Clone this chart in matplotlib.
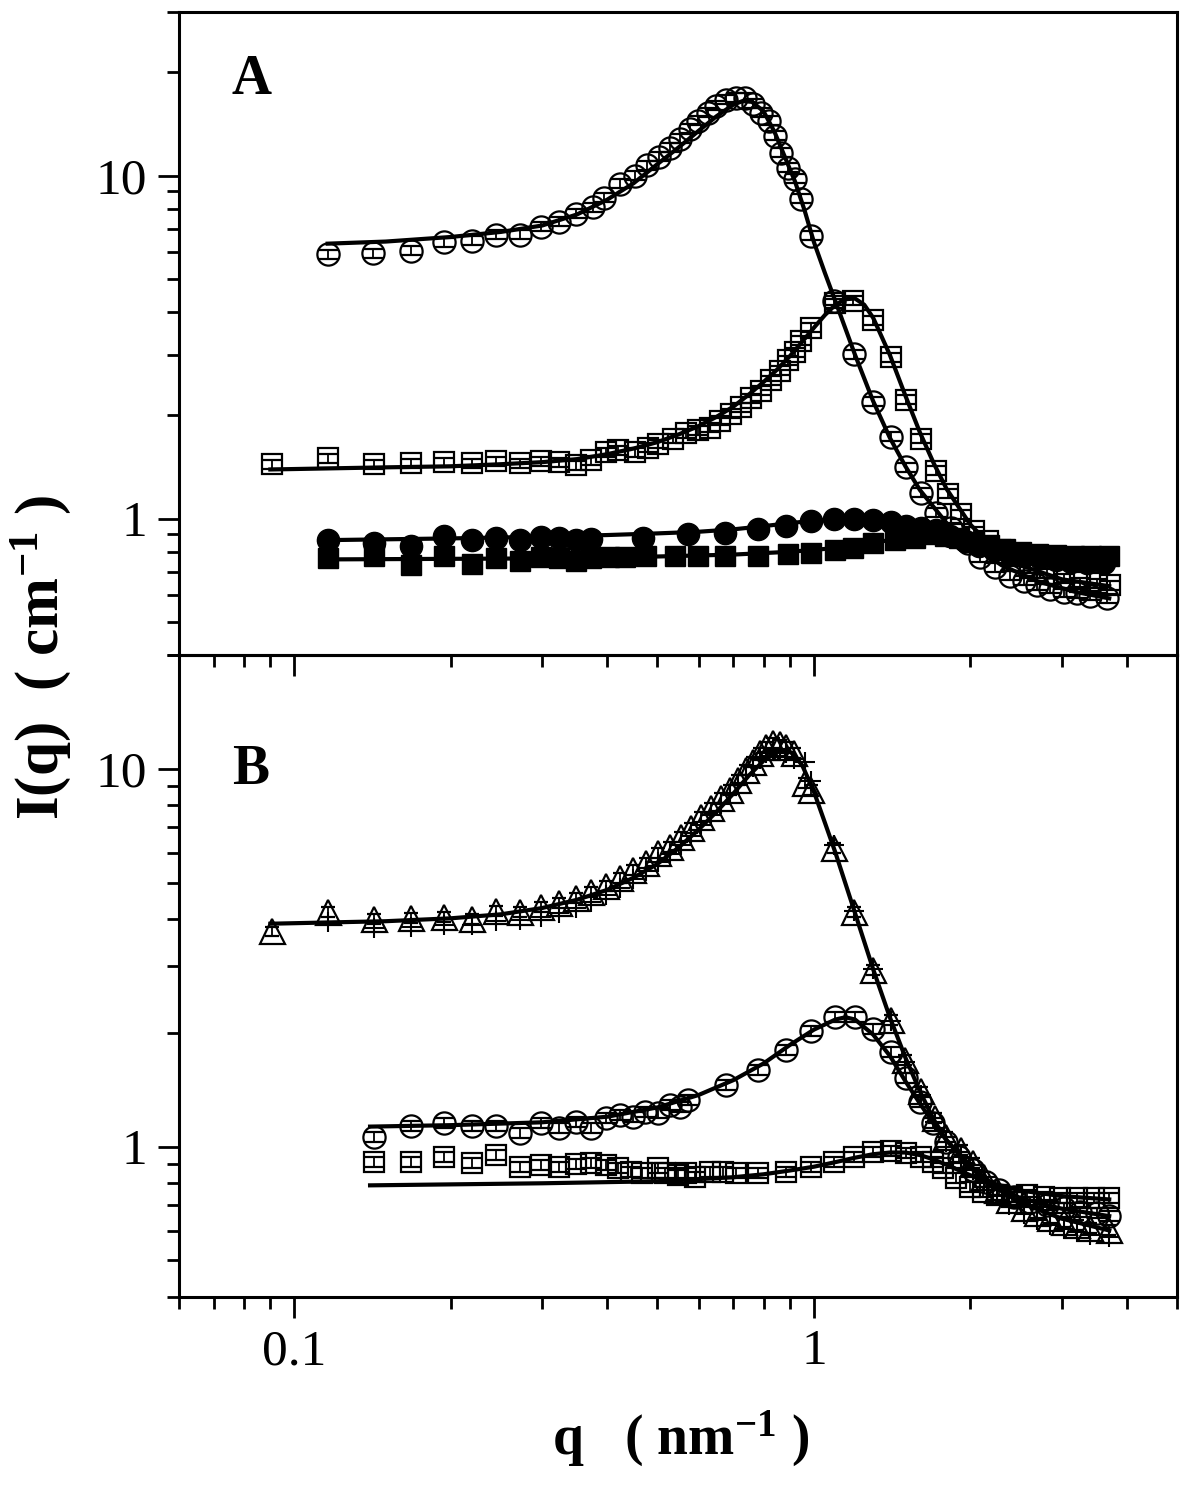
import matplotlib
matplotlib.use('Agg')
import matplotlib.pyplot as plt
from matplotlib.ticker import LogLocator, NullFormatter, FuncFormatter

plt.rcParams['font.family'] = 'Liberation Serif'
plt.rcParams['mathtext.fontset'] = 'custom'
plt.rcParams['mathtext.rm'] = 'Liberation Serif:bold'
plt.rcParams['mathtext.bf'] = 'Liberation Serif:bold'
plt.rcParams['mathtext.default'] = 'rm'

# ---------------- panel A data ----------------
A_circ_q = [0.116, 0.142, 0.168, 0.194, 0.220, 0.245, 0.272, 0.298, 0.323, 0.349,
            0.376, 0.394, 0.424, 0.453, 0.478, 0.504, 0.529, 0.553, 0.578, 0.599,
            0.626, 0.648, 0.678, 0.708, 0.737, 0.764, 0.791, 0.820, 0.842, 0.864,
            0.891, 0.919, 0.944, 0.987, 1.093, 1.193, 1.298, 1.405, 1.502, 1.605,
            1.715, 1.832, 1.975, 2.083, 2.226, 2.388, 2.541, 2.692, 2.851, 3.032,
            3.212, 3.401, 3.667]
A_circ_I = [5.89, 5.93, 6.04, 6.38, 6.46, 6.73, 6.73, 7.10, 7.34, 7.75,
            8.07, 8.63, 9.48, 10.0, 10.7, 11.36, 12.07, 12.82, 13.71, 14.47,
            15.26, 16.0, 16.66, 16.87, 16.87, 16.22, 15.26, 14.47, 13.08, 11.67,
            10.55, 9.80, 8.57, 6.68, 4.32, 3.01, 2.19, 1.73, 1.41, 1.19,
            1.04, 0.94, 0.846, 0.77, 0.72, 0.682, 0.659, 0.638, 0.625, 0.609,
            0.605, 0.596, 0.585]

A_sq_q = [0.0907, 0.116, 0.1425, 0.168, 0.194, 0.220, 0.245, 0.272, 0.298, 0.323,
          0.348, 0.373, 0.399, 0.42, 0.453, 0.480, 0.502, 0.536, 0.568, 0.599,
          0.632, 0.660, 0.693, 0.724, 0.757, 0.791, 0.827, 0.860, 0.891, 0.919,
          0.945, 0.987, 1.097, 1.19, 1.298, 1.405, 1.502, 1.605, 1.715, 1.808,
          1.915, 2.037, 2.158, 2.285, 2.431, 2.609, 2.813, 3.032, 3.255, 3.509, 3.716]
A_sq_I = [1.44, 1.50, 1.44, 1.45, 1.46, 1.45, 1.47, 1.45, 1.47, 1.46,
          1.43, 1.48, 1.56, 1.58, 1.56, 1.61, 1.65, 1.71, 1.77, 1.81,
          1.84, 1.93, 2.02, 2.11, 2.24, 2.36, 2.53, 2.70, 2.89, 3.05,
          3.30, 3.60, 4.24, 4.32, 3.78, 2.95, 2.22, 1.71, 1.38, 1.18,
          1.03, 0.92, 0.86, 0.81, 0.75, 0.715, 0.69, 0.668, 0.651, 0.647, 0.638]

A_fc_q = [0.116, 0.1425, 0.168, 0.194, 0.220, 0.245, 0.272, 0.298, 0.323, 0.349,
          0.373, 0.470, 0.573, 0.675, 0.781, 0.884, 0.987, 1.093, 1.193, 1.298,
          1.405, 1.502, 1.605, 1.715, 1.83, 1.95, 2.08, 2.22, 2.38, 2.54,
          2.72, 2.92, 3.13, 3.36, 3.62]
A_fc_I = [0.863, 0.846, 0.834, 0.892, 0.863, 0.88, 0.868, 0.886, 0.88, 0.868,
          0.87, 0.88, 0.904, 0.91, 0.935, 0.954, 0.985, 0.995, 1.0, 0.993,
          0.98, 0.954, 0.941, 0.923, 0.89, 0.86, 0.83, 0.81, 0.79, 0.775,
          0.765, 0.755, 0.748, 0.742, 0.74]

A_fs_q = [0.116, 0.1425, 0.168, 0.194, 0.220, 0.245, 0.272, 0.298, 0.323, 0.349,
          0.373, 0.403, 0.434, 0.476, 0.541, 0.599, 0.675, 0.781, 0.891, 0.987,
          1.097, 1.19, 1.298, 1.43, 1.563, 1.677, 1.784, 1.90, 2.03, 2.17,
          2.33, 2.50, 2.70, 2.92, 3.16, 3.42, 3.70]
A_fs_I = [0.765, 0.78, 0.73, 0.78, 0.739, 0.765, 0.754, 0.77, 0.765, 0.754,
          0.765, 0.77, 0.77, 0.78, 0.78, 0.78, 0.78, 0.78, 0.79, 0.796,
          0.807, 0.818, 0.846, 0.863, 0.88, 0.904, 0.892, 0.875, 0.855, 0.835,
          0.815, 0.80, 0.79, 0.785, 0.78, 0.778, 0.776]

# fitted curves, panel A
fitA_circ_q = [0.116, 0.15, 0.2, 0.25, 0.3, 0.35, 0.4, 0.45, 0.5, 0.55, 0.6, 0.65, 0.7,
               0.73, 0.76, 0.8, 0.84, 0.88, 0.92, 0.96, 1.0, 1.05, 1.1, 1.2, 1.3, 1.4,
               1.5, 1.6, 1.8, 2.0, 2.3, 2.7, 3.2, 3.7]
fitA_circ_I = [6.33, 6.42, 6.62, 6.85, 7.15, 7.7, 8.5, 9.5, 10.8, 12.1, 13.5, 14.9, 16.1,
               16.5, 16.4, 15.4, 13.4, 11.3, 9.6, 7.9, 6.4, 5.2, 4.3, 3.0, 2.2, 1.72,
               1.42, 1.21, 0.97, 0.84, 0.73, 0.655, 0.61, 0.585]
fitA_sq_q = [0.09, 0.15, 0.2, 0.25, 0.3, 0.35, 0.4, 0.45, 0.5, 0.55, 0.6, 0.65, 0.7, 0.75,
             0.8, 0.85, 0.9, 0.95, 1.0, 1.05, 1.1, 1.15, 1.2, 1.25, 1.3, 1.4, 1.5, 1.6,
             1.7, 1.8, 2.0, 2.2, 2.5, 3.0, 3.7]
fitA_sq_I = [1.39, 1.41, 1.42, 1.44, 1.46, 1.49, 1.54, 1.60, 1.67, 1.76, 1.86, 1.98, 2.12,
             2.30, 2.50, 2.72, 2.98, 3.28, 3.60, 3.92, 4.20, 4.36, 4.38, 4.20, 3.85, 3.00,
             2.28, 1.78, 1.45, 1.22, 0.96, 0.83, 0.73, 0.665, 0.635]
fitA_fc_q = [0.116, 0.2, 0.3, 0.4, 0.5, 0.6, 0.7, 0.8, 0.9, 1.0, 1.2, 1.4, 1.6, 1.8, 2.0,
             2.5, 3.0, 3.7]
fitA_fc_I = [0.865, 0.875, 0.885, 0.895, 0.905, 0.915, 0.93, 0.95, 0.97, 0.985, 1.0, 0.99,
             0.95, 0.89, 0.84, 0.78, 0.755, 0.745]
fitA_fs_q = [0.116, 0.3, 0.5, 0.7, 0.9, 1.1, 1.3, 1.5, 1.7, 1.9, 2.1, 2.5, 3.0, 3.7]
fitA_fs_I = [0.76, 0.765, 0.775, 0.785, 0.80, 0.82, 0.85, 0.88, 0.895, 0.89, 0.86, 0.81,
             0.785, 0.775]

# ---------------- panel B data ----------------
B_tri_q = [0.0907, 0.116, 0.1425, 0.168, 0.194, 0.220, 0.245, 0.272, 0.298, 0.323,
           0.349, 0.373, 0.399, 0.424, 0.449, 0.476, 0.502, 0.529, 0.556, 0.581,
           0.607, 0.634, 0.663, 0.690, 0.715, 0.741, 0.764, 0.788, 0.809, 0.834,
           0.860, 0.884, 0.915, 0.961, 0.987, 1.093, 1.193, 1.298, 1.405, 1.495,
           1.605, 1.707, 1.792, 1.915, 2.02, 2.129, 2.255, 2.378, 2.541, 2.692,
           2.851, 3.032, 3.212, 3.401, 3.70]
B_tri_I = [3.71, 4.18, 4.01, 4.03, 4.06, 4.01, 4.21, 4.18, 4.31, 4.42,
           4.55, 4.72, 4.90, 5.15, 5.40, 5.64, 6.0, 6.22, 6.61, 6.98,
           7.46, 7.88, 8.38, 8.80, 9.35, 9.94, 10.4, 11.0, 11.4, 11.7,
           11.6, 11.4, 11.0, 9.18, 8.80, 6.18, 4.18, 2.94, 2.17, 1.70,
           1.40, 1.19, 1.06, 0.98, 0.907, 0.833, 0.77, 0.724, 0.69, 0.669,
           0.649, 0.633, 0.622, 0.61, 0.603]

B_plus_q = B_tri_q[1:]
B_plus_I = [3.92, 3.80, 3.82, 3.85, 3.85, 3.95, 3.98, 4.05, 4.15,
            4.28, 4.45, 4.62, 4.85, 5.10, 5.35, 5.65, 5.95, 6.30, 6.65,
            7.10, 7.55, 8.05, 8.55, 9.05, 9.60, 10.1, 10.6, 11.0, 11.2,
            11.2, 11.0, 10.6, 10.4, 9.3, 6.3, 4.2, 2.95, 2.15, 1.68,
            1.37, 1.16, 1.03, 0.94, 0.87, 0.80, 0.74, 0.70, 0.665, 0.64,
            0.62, 0.605, 0.595, 0.585, 0.575]

B_circ_q = [0.1425, 0.168, 0.194, 0.220, 0.245, 0.272, 0.298, 0.323, 0.349, 0.373,
            0.399, 0.424, 0.449, 0.474, 0.502, 0.529, 0.553, 0.573, 0.678, 0.781,
            0.884, 0.987, 1.097, 1.198, 1.298, 1.405, 1.502, 1.598, 1.692, 1.792,
            1.906, 2.02, 2.14, 2.275, 2.431, 2.609, 2.813, 3.032, 3.255, 3.509, 3.70]
B_circ_I = [1.063, 1.137, 1.157, 1.137, 1.137, 1.089, 1.157, 1.123, 1.164, 1.123,
            1.193, 1.215, 1.20, 1.238, 1.23, 1.292, 1.276, 1.331, 1.459, 1.598,
            1.805, 2.027, 2.208, 2.208, 2.05, 1.784, 1.522, 1.315, 1.157, 1.031,
            0.941, 0.869, 0.808, 0.77, 0.737, 0.715, 0.702, 0.69, 0.673, 0.669, 0.657]

B_sq_q = [0.1425, 0.168, 0.194, 0.220, 0.245, 0.272, 0.298, 0.323, 0.349, 0.373,
          0.399, 0.42, 0.445, 0.466, 0.502, 0.518, 0.548, 0.568, 0.591, 0.632,
          0.669, 0.708, 0.781, 0.884, 0.987, 1.093, 1.193, 1.298, 1.405, 1.502,
          1.605, 1.692, 1.768, 1.873, 1.993, 2.112, 2.255, 2.41, 2.575, 2.776,
          2.98, 3.212, 3.462, 3.70]
B_sq_I = [0.913, 0.913, 0.941, 0.907, 0.952, 0.885, 0.896, 0.885, 0.902, 0.907,
          0.896, 0.88, 0.859, 0.854, 0.88, 0.854, 0.843, 0.854, 0.833, 0.859,
          0.859, 0.854, 0.854, 0.859, 0.885, 0.913, 0.941, 0.97, 0.976, 0.964,
          0.941, 0.913, 0.88, 0.828, 0.784, 0.76, 0.746, 0.737, 0.746, 0.737,
          0.733, 0.733, 0.733, 0.733]

# fitted curves, panel B
fitB_tri_q = [0.09, 0.15, 0.2, 0.25, 0.3, 0.35, 0.4, 0.45, 0.5, 0.55, 0.6, 0.65, 0.7,
              0.75, 0.8, 0.85, 0.88, 0.91, 0.95, 1.0, 1.05, 1.1, 1.2, 1.3, 1.4, 1.5,
              1.6, 1.7, 1.8, 2.0, 2.2, 2.5, 3.0, 3.7]
fitB_tri_I = [3.89, 3.95, 4.02, 4.12, 4.28, 4.5, 4.78, 5.15, 5.6, 6.2, 6.9, 7.7, 8.6,
              9.6, 10.5, 11.1, 11.2, 11.0, 10.2, 8.7, 7.2, 6.0, 4.15, 2.95, 2.2, 1.72,
              1.40, 1.18, 1.04, 0.88, 0.79, 0.71, 0.645, 0.60]
fitB_circ_q = [0.14, 0.2, 0.3, 0.4, 0.5, 0.6, 0.7, 0.8, 0.9, 1.0, 1.1, 1.15, 1.2, 1.3,
               1.4, 1.5, 1.6, 1.7, 1.8, 2.0, 2.2, 2.5, 3.0, 3.7]
fitB_circ_I = [1.13, 1.14, 1.16, 1.20, 1.27, 1.37, 1.50, 1.66, 1.86, 2.04, 2.17, 2.20,
               2.17, 1.98, 1.74, 1.49, 1.30, 1.15, 1.04, 0.89, 0.80, 0.73, 0.685, 0.655]
fitB_sq_q = [0.14, 0.3, 0.5, 0.7, 0.8, 0.9, 1.0, 1.1, 1.2, 1.3, 1.4, 1.5, 1.6, 1.7, 1.8,
             2.0, 2.2, 2.5, 3.0, 3.7]
fitB_sq_I = [0.79, 0.80, 0.81, 0.83, 0.845, 0.865, 0.885, 0.91, 0.935, 0.955, 0.965,
             0.965, 0.95, 0.925, 0.895, 0.84, 0.80, 0.765, 0.74, 0.725]

REL_ERR = 0.03  # relative size of the drawn error bars

fig = plt.figure(figsize=(12, 14.9), dpi=100)
axA = fig.add_axes([0.149, 0.5604, 0.832, 0.4316])
axB = fig.add_axes([0.149, 0.1295, 0.832, 0.4309])


def fmt(v, pos):
    return f'{v:g}'


def style(ax, ylim):
    ax.set_xscale('log')
    ax.set_yscale('log')
    ax.set_xlim(0.06, 5)
    ax.set_ylim(*ylim)
    ax.set_facecolor('none')
    for s in ax.spines.values():
        s.set_linewidth(2.2)
    ax.tick_params(which='both', direction='out', top=False, right=False, width=2.0)
    ax.tick_params(which='major', length=15, labelsize=37, pad=8)
    ax.tick_params(which='minor', length=8.5)
    for axis in (ax.xaxis, ax.yaxis):
        axis.set_major_locator(LogLocator(base=10, numticks=10))
        axis.set_minor_locator(LogLocator(base=10, subs=range(2, 10), numticks=20))
        axis.set_major_formatter(FuncFormatter(fmt))
        axis.set_minor_formatter(NullFormatter())


def open_pts(ax, q, I, marker, ms, cap):
    ax.errorbar(q, I, yerr=[REL_ERR * v for v in I], fmt=marker, ms=ms, mfc='none',
                mec='k', mew=1.6, ecolor='k', elinewidth=1.3, capsize=cap,
                capthick=1.3, zorder=3)


style(axA, (0.4, 30))
style(axB, (0.4, 20))
axA.tick_params(labelbottom=False)

# panel A
open_pts(axA, A_circ_q, A_circ_I, 'o', 16, 7.5)
open_pts(axA, A_sq_q, A_sq_I, 's', 14.5, 6.5)
axA.plot(A_fc_q, A_fc_I, 'o', ms=16, color='k', zorder=3)
axA.plot(A_fs_q, A_fs_I, 's', ms=15, color='k', zorder=3)
for fq, fi in [(fitA_circ_q, fitA_circ_I), (fitA_sq_q, fitA_sq_I),
               (fitA_fc_q, fitA_fc_I), (fitA_fs_q, fitA_fs_I)]:
    axA.plot(fq, fi, '-', color='k', lw=3, zorder=4)

# panel B
open_pts(axB, B_tri_q, B_tri_I, '^', 18, 5)
axB.plot(B_plus_q, B_plus_I, '+', ms=15, mew=1.5, color='k', zorder=3)
open_pts(axB, B_circ_q, B_circ_I, 'o', 16, 7.5)
open_pts(axB, B_sq_q, B_sq_I, 's', 14.5, 6.5)
for fq, fi in [(fitB_tri_q, fitB_tri_I), (fitB_circ_q, fitB_circ_I),
               (fitB_sq_q, fitB_sq_I)]:
    axB.plot(fq, fi, '-', color='k', lw=3, zorder=4)

axA.text(0.053, 0.894, 'A', transform=axA.transAxes, fontsize=40,
         fontweight='bold', ha='left', va='center')
axB.text(0.053, 0.821, 'B', transform=axB.transAxes, fontsize=40,
         fontweight='bold', ha='left', va='center')

fig.text(0.034, 0.559, 'I(q)  ( cm$^{-1}$ )', rotation=90, fontsize=44,
         fontweight='bold', ha='center', va='center')
fig.text(0.567, 0.034, 'q   ( nm$^{-1}$ )', fontsize=40, fontweight='bold',
         ha='center', va='center')

fig.savefig('out.png', dpi=100)
